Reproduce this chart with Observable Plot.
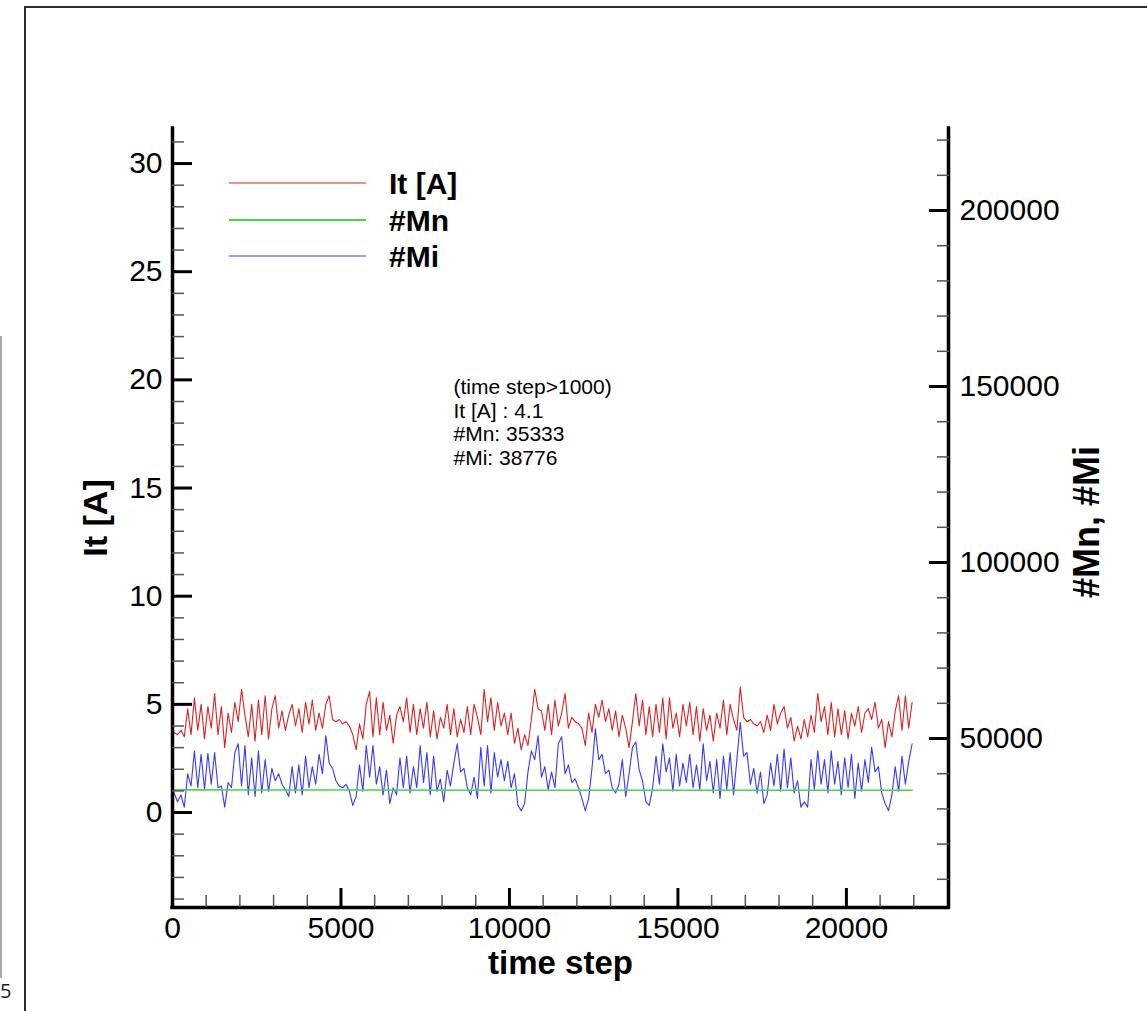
<!DOCTYPE html>
<html>
<head>
<meta charset="utf-8">
<script src="https://cdn.jsdelivr.net/npm/d3@7"></script>
<script src="https://cdn.jsdelivr.net/npm/@observablehq/plot@0.6"></script>
<style>
html, body { margin: 0; padding: 0; background: #fff; }
#wrap { position: relative; width: 1147px; height: 1011px; overflow: hidden; font-family: "Liberation Sans", Arial, sans-serif; }
#frame { position: absolute; left: 24px; top: 6px; width: 1200px; height: 1100px; border-top: 2px solid #2a2a2a; border-left: 2px solid #2a2a2a; box-sizing: border-box; }
#edge { position: absolute; left: 0; top: 336px; width: 2px; height: 642px; background: #aaa; }
#pageno { position: absolute; left: 0; top: 977px; font: 20px "Open Sans", "DejaVu Sans", sans-serif; color: #222; }
#chart { position: absolute; left: 0; top: 0; }
#overlay { position: absolute; left: 0; top: 0; pointer-events: none; }
</style>
</head>
<body>
<div id="wrap">
  <div id="frame"></div>
  <div id="edge"></div>
  <div id="pageno">5</div>
  <div id="chart"></div>
  <svg id="overlay" width="1147" height="1011"></svg>
</div>
<script>
// ---------------- data ----------------
const timeSteps = d3.range(50, 22000, 100); // sampling grid of the traces (220 samples)

const itValues = [
  3.7,3.6,3.8,3.5,4.8,3.6,5.3,3.8,5.0,3.4,
  4.9,3.9,5.5,3.6,4.9,3.0,4.6,3.7,5.1,4.2,
  5.7,4.5,3.5,5.0,3.3,5.2,3.6,5.4,3.4,4.8,
  5.4,3.9,4.7,3.8,4.5,5.0,4.0,4.8,3.7,5.1,
  4.1,5.2,3.8,4.6,3.9,5.0,5.4,4.3,4.2,4.3,
  4.1,4.2,4.0,3.6,2.9,4.1,3.4,5.0,5.6,3.5,
  5.3,3.6,5.1,3.8,4.5,3.2,4.5,4.9,4.2,5.3,
  3.7,5.0,3.6,4.8,3.9,5.1,3.5,4.7,3.4,4.4,
  3.9,5.0,3.6,4.8,3.5,4.3,3.7,4.9,3.6,5.0,
  4.4,3.6,5.7,4.2,5.3,3.8,5.1,4.0,4.6,3.6,
  4.6,3.2,3.9,2.9,3.6,3.1,4.3,5.7,4.8,4.7,
  3.8,5.0,3.6,5.2,4.0,4.6,5.5,3.9,4.4,4.2,
  4.1,3.9,3.1,4.6,3.7,5.0,4.4,5.2,4.2,4.8,
  3.8,4.7,3.5,4.5,3.9,3.0,4.2,5.5,4.0,5.2,
  3.6,4.9,3.5,5.0,3.7,5.3,3.4,5.3,3.9,4.6,
  3.5,5.0,4.0,5.1,3.6,4.9,3.3,4.8,3.8,4.5,
  3.3,4.6,3.9,5.2,3.6,5.0,4.3,3.8,5.8,4.4,
  4.2,4.3,4.1,4.0,4.2,3.7,4.5,3.8,5.0,4.1,
  4.6,4.9,3.9,4.4,3.3,4.0,3.4,4.3,3.5,4.5,
  3.7,5.5,4.2,4.9,3.6,5.1,3.5,4.8,3.6,4.7,
  3.4,4.6,4.0,4.9,3.7,4.6,4.8,4.3,5.1,3.9,
  4.3,3.0,4.2,3.5,4.7,5.4,3.8,5.4,3.9,5.1
];

// #Mi, in thousands
const miValuesK = [
  34.5,32.0,34.0,30.5,40.0,36.5,46.5,36.0,45.5,35.5,
  45.8,37.0,46.0,36.0,36.5,30.5,37.5,36.0,46.0,48.5,
  36.5,48.0,34.0,44.5,33.5,46.5,34.5,44.0,35.0,41.5,
  38.0,40.0,37.0,35.5,33.5,42.0,34.5,42.5,34.0,45.0,
  36.0,42.0,37.0,45.5,40.0,50.8,43.0,41.5,38.0,36.5,
  36.0,37.0,35.0,31.0,33.5,42.5,35.0,48.0,39.0,48.0,
  37.0,42.0,34.0,41.0,31.5,36.0,34.0,44.5,36.0,45.0,
  34.5,42.0,36.0,48.0,37.5,46.0,34.0,45.0,35.0,38.5,
  32.0,41.0,36.5,43.0,48.5,40.5,41.5,36.0,34.0,39.0,
  33.0,47.5,36.5,48.0,34.5,46.0,39.0,44.0,38.0,43.5,
  36.0,40.0,31.0,29.5,31.5,40.5,46.5,44.0,50.8,39.0,
  42.0,35.5,40.5,36.0,48.5,50.5,40.0,42.5,37.5,38.5,
  36.0,33.0,29.5,33.0,41.5,52.8,44.0,45.5,40.0,41.0,
  36.0,34.5,37.0,44.0,33.5,40.0,47.5,49.0,41.0,38.0,
  32.0,31.0,36.0,45.0,37.0,48.5,40.5,44.5,35.0,45.5,
  36.5,43.0,37.5,45.5,36.0,42.5,35.5,48.5,38.0,43.5,
  34.5,44.0,33.0,45.0,35.5,46.0,34.0,44.0,54.6,45.0,
  46.0,37.0,41.5,34.5,40.5,31.5,34.0,43.0,36.5,45.5,
  35.0,47.0,36.0,44.5,34.5,38.0,30.5,32.0,30.5,44.0,
  35.5,46.5,37.0,44.0,34.5,46.5,37.0,43.5,34.0,44.5,
  36.0,45.5,33.0,43.0,35.0,44.0,37.5,47.5,40.5,42.0,
  34.5,31.5,29.5,34.0,42.0,35.0,45.0,37.0,43.5,48.5
];

const mnTimes = [50, 5000, 10000, 15000, 20000, 21950];
const mnValues = [35400, 35350, 35320, 35300, 35300, 35280];

const xDomain = [0, 23030];
const leftDomain = [-4.39, 31.62];
const rightDomain = [1990, 223300];

const xMajorTicks = [0, 5000, 10000, 15000, 20000];
const xMinorTicks = [1000,2000,3000,4000,6000,7000,8000,9000,11000,12000,13000,14000,16000,17000,18000,19000,21000,22000];
const leftMajorTicks = [0, 5, 10, 15, 20, 25, 30];
const leftMinorTicks = [-4,-3,-2,-1,1,2,3,4,6,7,8,9,11,12,13,14,16,17,18,19,21,22,23,24,26,27,28,29,31];
const rightMajorTicks = [50000, 100000, 150000, 200000];
const rightMinorTicks = [10000,20000,30000,40000,60000,70000,80000,90000,110000,120000,130000,140000,160000,170000,180000,190000,210000,220000];

const legendLabels = ["It [A]", "#Mn", "#Mi"];
const seriesColors = ["#dd2222", "#44d844", "#3838ff"];
const noteLines = ["(time step>1000)", "It [A] : 4.1", "#Mn: 35333", "#Mi: 38776"];

const xTitle = "time step";
const leftTitle = "It [A]";
const rightTitle = "#Mn, #Mi";

// ---------------- scales mapping (right axis -> left units) ----------------
const toLeft = d3.scaleLinear().domain(rightDomain).range(leftDomain);
const fromLeft = toLeft.invert;

const redData = timeSteps.map((t, i) => ({t, v: itValues[i]}));
const blueData = timeSteps.map((t, i) => ({t, v: miValuesK[i] * 1000}));
const greenData = mnTimes.map((t, i) => ({t, v: mnValues[i]}));

const FONT = "Liberation Sans, Arial, Helvetica, sans-serif";
const tickFont = 30;

const plot = Plot.plot({
  width: 1147,
  height: 1011,
  marginLeft: 172,
  marginRight: 199,
  marginTop: 128,
  marginBottom: 104,
  x: {domain: xDomain, axis: null},
  y: {domain: leftDomain, axis: null},
  style: {fontFamily: FONT, background: "transparent", color: "#000", overflow: "visible"},
  marks: [
    Plot.line(redData, {x: "t", y: "v", stroke: seriesColors[0], strokeWidth: 1.1}),
    Plot.line(blueData, {x: "t", y: d => toLeft(d.v), stroke: seriesColors[2], strokeWidth: 1.1}),
    Plot.line(greenData, {x: "t", y: d => toLeft(d.v), stroke: seriesColors[1], strokeWidth: 1.6}),

    // axis lines
    Plot.ruleX([xDomain[0]], {strokeWidth: 3.5, strokeLinecap: "square"}),
    Plot.ruleX([xDomain[1]], {strokeWidth: 3.5, strokeLinecap: "square"}),
    Plot.ruleY([leftDomain[0]], {strokeWidth: 3.5, strokeLinecap: "square"}),

    // left axis
    Plot.axisY(leftMinorTicks, {anchor: "left", tickSize: 12, dx: 12, stroke: "#555", strokeWidth: 1.5, fill: "none", label: null}),
    Plot.axisY(leftMajorTicks, {anchor: "left", tickSize: 20, dx: 20, tickPadding: 10, strokeWidth: 3, fontSize: tickFont, tickFormat: d => String(d), label: null}),

    // right axis
    Plot.axisY(rightMinorTicks.map(toLeft), {anchor: "right", tickSize: 12, dx: -12, stroke: "#555", strokeWidth: 1.5, fill: "none", label: null}),
    Plot.axisY(rightMajorTicks.map(toLeft), {anchor: "right", tickSize: 20, dx: -20, tickPadding: 11, strokeWidth: 3, fontSize: tickFont, tickFormat: d => String(Math.round(fromLeft(d))), label: null}),

    // bottom axis
    Plot.axisX(xMinorTicks, {anchor: "bottom", tickSize: 12, dy: -12, stroke: "#555", strokeWidth: 1.5, fill: "none", label: null}),
    Plot.axisX(xMajorTicks, {anchor: "bottom", tickSize: 19, dy: -19, tickPadding: 9, strokeWidth: 3, fontSize: tickFont, tickFormat: d => String(d), label: null}),

    // axis titles
    Plot.text([xTitle], {frameAnchor: "bottom", dy: 56, fontSize: 33, fontWeight: "bold", textAnchor: "middle", lineAnchor: "middle"}),
    Plot.text([leftTitle], {frameAnchor: "left", dx: -76, dy: 0, rotate: -90, fontSize: 34, fontWeight: "bold", textAnchor: "middle", lineAnchor: "middle"}),
    Plot.text([rightTitle], {frameAnchor: "right", dx: 139, dy: 4, rotate: -90, fontSize: 36, fontWeight: "bold", textAnchor: "middle", lineAnchor: "middle"}),

    // statistics note
    Plot.text([noteLines.join("\n")], {frameAnchor: "top-left", dx: 281, dy: 249, textAnchor: "start", lineAnchor: "top", lineHeight: 1.12, fontSize: 21})
  ]
});
document.getElementById("chart").appendChild(plot);

// ---------------- legend ----------------
const ov = d3.select("#overlay");
const legY = [183, 220, 256];
const legW = [1.2, 1.8, 1.2];
legendLabels.forEach((lab, i) => {
  ov.append("line").attr("x1", 229).attr("x2", 366).attr("y1", legY[i]).attr("y2", legY[i])
    .attr("stroke", seriesColors[i]).attr("stroke-width", legW[i]);
  ov.append("text").attr("x", 389).attr("y", legY[i]).attr("dy", "0.36em")
    .attr("font-family", FONT).attr("font-weight", "bold").attr("font-size", 30)
    .attr("fill", "#000").text(lab);
});
</script>
</body>
</html>
